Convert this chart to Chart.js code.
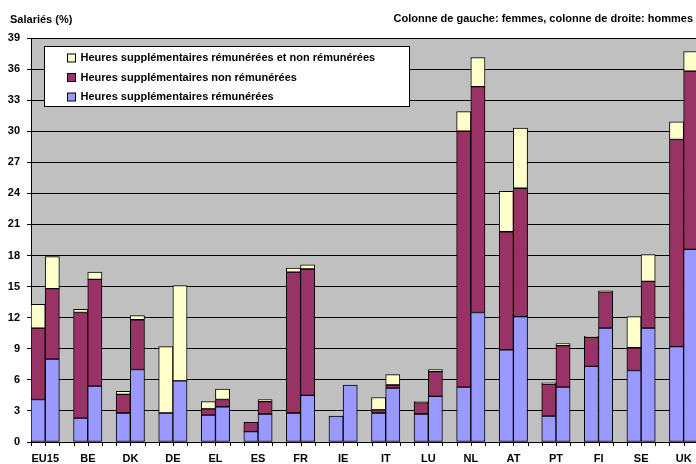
<!DOCTYPE html>
<html>
<head>
<meta charset="utf-8">
<script src="https://cdn.jsdelivr.net/npm/chart.js@4"></script>
<style>
  html, body { margin: 0; padding: 0; background: #fff; overflow: hidden; }
  #wrap { position: relative; width: 712px; height: 464px; }
</style>
</head>
<body>
<div id="wrap"><canvas id="chart"></canvas></div>
<script>
// ---------- Data ----------
const countries = ["EU15","BE","DK","DE","EL","ES","FR","IE","IT","LU","NL","AT","PT","FI","SE","UK"];

// women (left column)
const womenPaid   = [4.1, 2.3, 2.8, 2.8, 2.6, 1.0, 2.8, 2.5, 2.8, 2.7, 5.3, 8.9, 2.5, 7.3, 6.9, 9.2];
const womenUnpaid = [6.9, 10.2, 1.8, 0, 0.6, 0.9, 13.6, 0, 0.3, 1.1, 24.7, 11.4, 3.1, 2.8, 2.2, 20.0];
const womenBoth   = [2.3, 0.3, 0.3, 6.4, 0.7, 0, 0.4, 0, 1.2, 0.1, 1.9, 3.9, 0.1, 0.1, 3.0, 1.7];

// men (right column)
const menPaid   = [8.0, 5.4, 7.0, 5.9, 3.4, 2.7, 4.5, 5.5, 5.2, 4.4, 12.5, 12.1, 5.3, 11.0, 11.0, 18.6];
const menUnpaid = [6.8, 10.3, 4.8, 0, 0.7, 1.2, 12.2, 0, 0.3, 2.4, 21.8, 12.4, 4.0, 3.5, 4.5, 17.2];
const menBoth   = [3.1, 0.7, 0.4, 9.2, 1.0, 0.2, 0.4, 0, 1.0, 0.2, 2.8, 5.8, 0.2, 0.1, 2.6, 1.9];

const yTicks = { min: 0, max: 39, step: 3 };

const labelPaid   = "Heures supplémentaires rémunérées";
const labelUnpaid = "Heures supplémentaires non rémunérées";
const labelBoth   = "Heures supplémentaires rémunérées et non rémunérées";
const leftTitle   = "Salariés (%)";
const rightTitle  = "Colonne de gauche: femmes, colonne de droite: hommes";

// ---------- Style ----------
const C_PAID = "#9999FF", C_UNPAID = "#993366", C_BOTH = "#FFFFCC";
const FONT = "'Liberation Sans', Arial, Helvetica, sans-serif";

const seg = (label, data, color, stack) => ({
  label, data, stack,
  backgroundColor: color,
  borderColor: "#000",
  borderWidth: 1,
  borderSkipped: false,
  categoryPercentage: 1,
  barPercentage: 1
});

// ---------- Plugins ----------
const plotBg = {
  id: "plotBg",
  beforeDraw(chart) {
    const { ctx, chartArea: a } = chart;
    ctx.save();
    ctx.fillStyle = "#C0C0C0";
    ctx.fillRect(a.left, a.top, a.right - a.left, a.bottom - a.top);
    ctx.restore();
  }
};

const headers = {
  id: "headers",
  afterDraw(chart) {
    const { ctx } = chart;
    ctx.save();
    ctx.font = "bold 11px " + FONT;
    ctx.fillStyle = "#000";
    ctx.textBaseline = "middle";
    ctx.textAlign = "left";
    ctx.fillText(leftTitle, 10, 20);
    ctx.textAlign = "right";
    ctx.fillText(rightTitle, 693, 19);
    ctx.restore();
  }
};

// little tick marks under the axis at every bar edge
const barTicks = {
  id: "barTicks",
  afterDatasetsDraw(chart) {
    const { ctx, chartArea: a } = chart;
    ctx.save();
    ctx.strokeStyle = "#000";
    ctx.lineWidth = 1;
    ctx.beginPath();
    [0, 3].forEach((di) => {
      chart.getDatasetMeta(di).data.forEach((el) => {
        const x0 = Math.round(el.x - el.width / 2) + 0.5;
        const x1 = Math.round(el.x + el.width / 2) + 0.5;
        [x0, x1].forEach((x) => { ctx.moveTo(x, a.bottom); ctx.lineTo(x, a.bottom + 4); });
      });
    });
    ctx.stroke();
    ctx.restore();
  }
};

// boxed legend inside the plot, top-left
const boxLegend = {
  id: "boxLegend",
  afterDraw(chart) {
    const { ctx, chartArea: a } = chart;
    const items = [2, 1, 0].map((i) => chart.data.datasets[i]);
    const x = a.left + 13.5, y = a.top + 8.5, w = 365, h = 60;
    ctx.save();
    ctx.fillStyle = "#fff";
    ctx.strokeStyle = "#000";
    ctx.lineWidth = 1;
    ctx.fillRect(x, y, w, h);
    ctx.strokeRect(x, y, w, h);
    ctx.font = "bold 11px " + FONT;
    ctx.textBaseline = "middle";
    items.forEach((ds, k) => {
      const cy = y + 11.5 + k * 19.5;
      ctx.fillStyle = ds.backgroundColor;
      ctx.fillRect(x + 23, cy - 4, 8, 8);
      ctx.strokeRect(x + 23, cy - 4, 8, 8);
      ctx.fillStyle = "#000";
      ctx.fillText(ds.label, x + 36, cy);
    });
    ctx.restore();
  }
};

// ---------- Chart ----------
new Chart(document.getElementById("chart"), {
  type: "bar",
  data: {
    labels: countries,
    datasets: [
      seg(labelPaid, womenPaid, C_PAID, "F"),
      seg(labelUnpaid, womenUnpaid, C_UNPAID, "F"),
      seg(labelBoth, womenBoth, C_BOTH, "F"),
      seg(labelPaid, menPaid, C_PAID, "H"),
      seg(labelUnpaid, menUnpaid, C_UNPAID, "H"),
      seg(labelBoth, menBoth, C_BOTH, "H"),
      { label: "", data: [], stack: "gap", categoryPercentage: 1, barPercentage: 1 } // empty third slot = gap between pairs
    ]
  },
  options: {
    responsive: true,
    maintainAspectRatio: false,
    animation: false,
    layout: { padding: { top: 38, left: 0, right: 0, bottom: 0 } },
    plugins: { legend: { display: false }, tooltip: { enabled: false } },
    scales: {
      x: {
        stacked: true,
        grid: { display: false, drawTicks: false },
        border: { display: true, color: "#000", width: 1 },
        ticks: {
          color: "#000", font: { family: FONT, size: 11, weight: "bold" },
          labelOffset: -7, padding: 10, maxRotation: 0, autoSkip: false
        },
        afterFit(s) { s.height = 22; }
      },
      y: {
        stacked: true,
        min: yTicks.min, max: yTicks.max,
        grid: { color: "#000", lineWidth: 1, tickLength: 4, drawTicks: true },
        border: { display: true, color: "#000", width: 1 },
        ticks: {
          stepSize: yTicks.step, color: "#000", padding: 7,
          font: { family: FONT, size: 11, weight: "bold" }
        },
        afterFit(s) { s.width = 31; }
      }
    }
  },
  plugins: [plotBg, barTicks, boxLegend, headers]
});
</script>
</body>
</html>
